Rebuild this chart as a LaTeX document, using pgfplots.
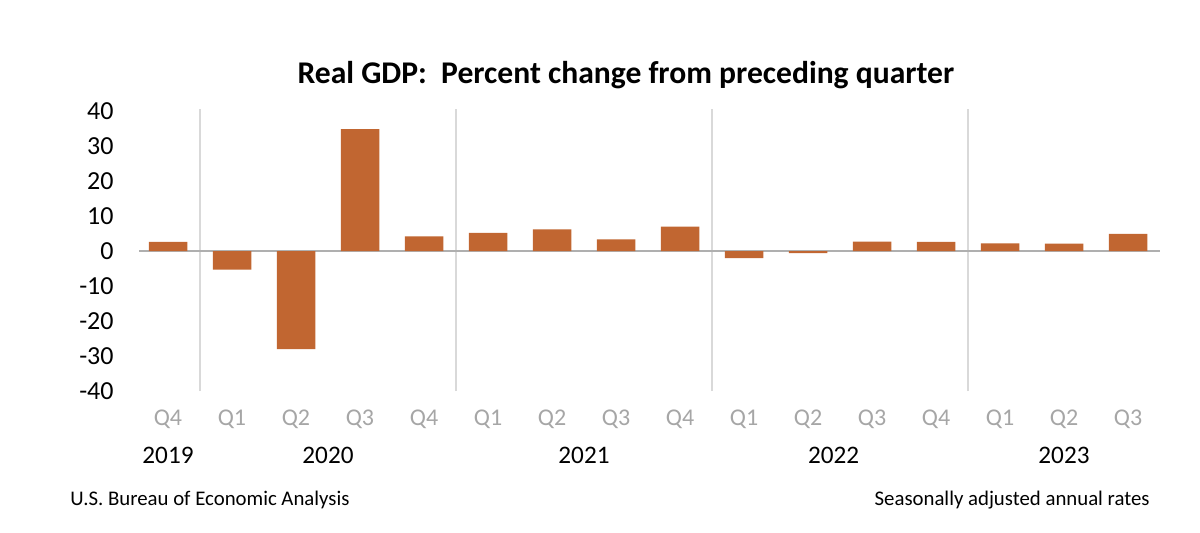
\documentclass[border=0pt]{standalone}
\usepackage{fontspec}
\setmainfont{Carlito}
\usepackage{pgfplots}
\pgfplotsset{compat=1.18}
\definecolor{barc}{RGB}{193,102,49}
\definecolor{qgray}{RGB}{166,166,166}
\definecolor{sepc}{RGB}{217,217,217}
\definecolor{zeroc}{RGB}{175,175,175}
\begin{document}
\begin{tikzpicture}[x=1pt,y=1pt]
\useasboundingbox (0,0) rectangle (600,266);
\fill[white] (0,0) rectangle (600,266);
\begin{axis}[
  at={(68pt,70.5pt)}, anchor=south west,
  scale only axis, width=512pt, height=140pt,
  xmin=-0.5, xmax=15.5, ymin=-40, ymax=40,
  clip=false,
  axis line style={draw=none},
  tick style={draw=none},
  major tick length=0pt,
  ybar, bar width=19.25pt,
  ytick={-40,-30,...,40},
  xtick={0,...,15},
  xticklabels={Q4,Q1,Q2,Q3,Q4,Q1,Q2,Q3,Q4,Q1,Q2,Q3,Q4,Q1,Q2,Q3},
  /pgf/number format/assume math mode=true,
  yticklabel style={font=\fontsize{13}{15}\selectfont, anchor=east, inner sep=0pt, xshift=-11pt, text=black},
  xticklabel style={font=\fontsize{12}{14}\selectfont, anchor=north, inner sep=0pt, yshift=-9.5pt, text=qgray},
]
\draw[sepc, line width=0.6pt] (axis cs:0.5,-40) -- (axis cs:0.5,40.5);
\draw[sepc, line width=0.6pt] (axis cs:4.5,-40) -- (axis cs:4.5,40.5);
\draw[sepc, line width=0.6pt] (axis cs:8.5,-40) -- (axis cs:8.5,40.5);
\draw[sepc, line width=0.6pt] (axis cs:12.5,-40) -- (axis cs:12.5,40.5);
\draw[zeroc, line width=0.6pt] (axis cs:-0.45,0) -- (axis cs:15.5,0);
\addplot[fill=barc, draw=none] coordinates {
  (0,2.6) (1,-5.3) (2,-28.0) (3,34.8) (4,4.2)
  (5,5.2) (6,6.2) (7,3.3) (8,7.0)
  (9,-2.0) (10,-0.6) (11,2.7) (12,2.6)
  (13,2.2) (14,2.1) (15,4.9)
};
\begin{scope}[every node/.style={font=\fontsize{12.6}{14}\selectfont, yshift=-32pt}]
\node at (axis cs:0,-40) {2019};
\node at (axis cs:2.5,-40) {2020};
\node at (axis cs:6.5,-40) {2021};
\node at (axis cs:10.4,-40) {2022};
\node at (axis cs:14,-40) {2023};
\end{scope}
\end{axis}
\node[font=\fontsize{15.8}{18}\selectfont\bfseries] at (313,228.5) {Real GDP:\ \ Percent change from preceding quarter};
\node[anchor=west, inner sep=0pt, font=\fontsize{10.4}{12}\selectfont] at (35,16) {U.S. Bureau of Economic Analysis};
\node[anchor=east, inner sep=0pt, font=\fontsize{10.4}{12}\selectfont] at (575,16) {Seasonally adjusted annual rates};
\end{tikzpicture}
\end{document}
